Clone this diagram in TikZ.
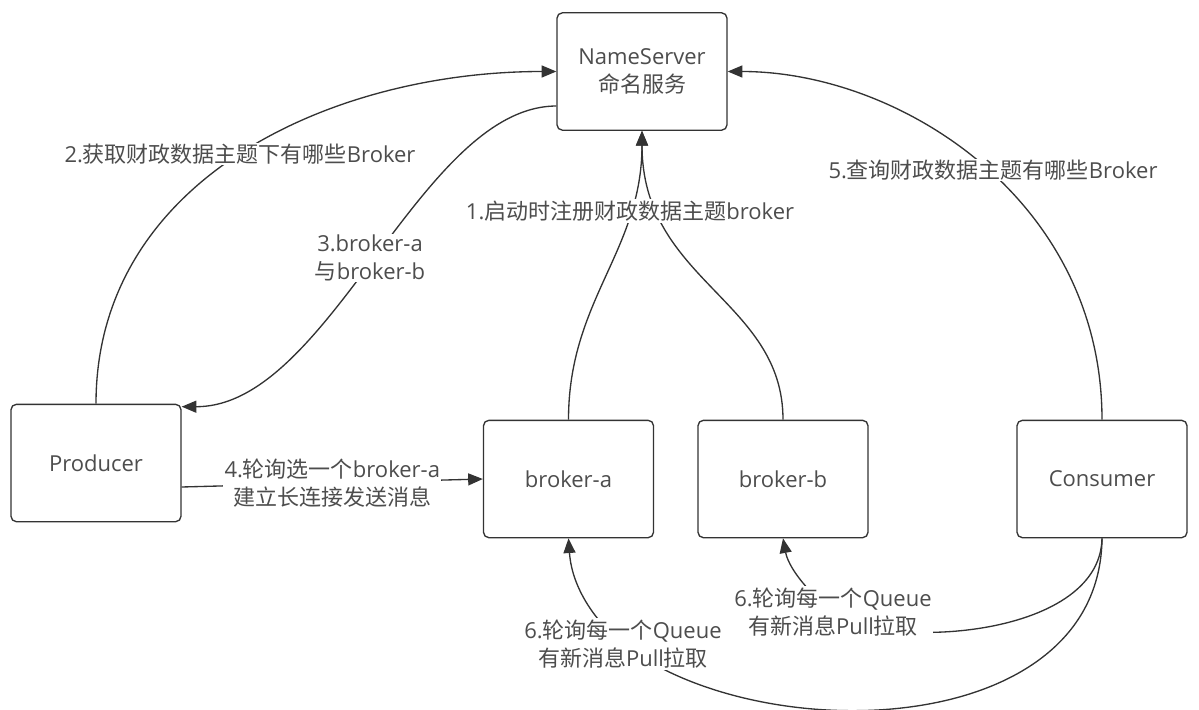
\documentclass[tikz,border=0pt]{standalone}
\usepackage{fontspec}
\setmainfont{Open Sans}
\newfontfamily\cjk{Noto Sans CJK SC}
\usetikzlibrary{arrows.meta,calc}
\definecolor{ln}{HTML}{333333}
\definecolor{tx}{HTML}{4D4D4D}
\begin{document}
\begin{tikzpicture}[x=0.75pt,y=-0.75pt,
  box/.style={draw=ln, line width=1pt, rounded corners=4pt, fill=white,
    minimum width=127.5pt, minimum height=88pt, align=center, text=tx,
    font=\fontsize{16.5}{21}\selectfont},
  lbl/.style={fill=white, align=center, text=tx, inner sep=1pt,
    font=\fontsize{16.5}{21}\selectfont},
  conn/.style={draw=ln, line width=1pt, -{Triangle[length=11pt,width=9pt]}},
]
\useasboundingbox (0,0) rectangle (1199,710);

\node[box] (ns) at (642,71.5) {NameServer\\{\cjk 命名服务}};
\node[box] (pr) at (96,463) {Producer};
\node[box] (ba) at (568.5,479) {broker-a};
\node[box] (bb) at (783,479) {broker-b};
\node[box] (co) at (1102,479) {Consumer};

\coordinate (m6a) at (623,644);
\coordinate (m6b) at (833,612);

% 1
\draw[conn] (ba.north) .. controls (568.5,300) and (642,251) .. (ns.south);
\draw[conn] (bb.north) .. controls (783,300) and (642,281) .. (ns.south);
% 2
\draw[conn] (pr.north) .. controls (96,180) and (330,71.5) .. (ns.west);
% 3
\draw[conn] ($(ns.west)+(0,34.5)$) .. controls (420,106.5) and (330,407) .. ($(pr.north east)+(0,3)$);
% 4
\draw[conn] ($(pr.east)+(0,24)$) -- (ba.west)
  node[lbl, midway] (l4) {4.{\cjk 轮询选一个}broker-a\\{\cjk 建立长连接发送消息}};
% 5
\draw[conn] (co.north) .. controls (1102,200) and (900,71.5) .. (ns.east);
% 6a
\draw[conn] (co.south) .. controls (1100,740) and (760,750) .. (m6a)
  .. controls (598,624) and (572,590) .. (ba.south);
% 6b
\draw[conn] (co.south) .. controls (1100,640) and (880,650) .. (m6b)
  .. controls (803,588) and (788,565) .. (bb.south);

\node[lbl] (l1) at (630,211) {1.{\cjk 启动时注册财政数据主题}broker};
\node[lbl] (l2) at (240,154) {2.{\cjk 获取财政数据主题下有哪些}Broker};
\node[lbl] (l3) at (370,258) {3.broker-a\\{\cjk 与}broker-b};
\node[lbl] (l5) at (993,170) {5.{\cjk 查询财政数据主题有哪些}Broker};
\node[lbl] (l6a) at (m6a) {6.{\cjk 轮询每一个}Queue\\{\cjk 有新消息}Pull{\cjk 拉取}};
\node[lbl] (l6b) at (m6b) {6.{\cjk 轮询每一个}Queue\\{\cjk 有新消息}Pull{\cjk 拉取}};
\end{tikzpicture}
\end{document}
